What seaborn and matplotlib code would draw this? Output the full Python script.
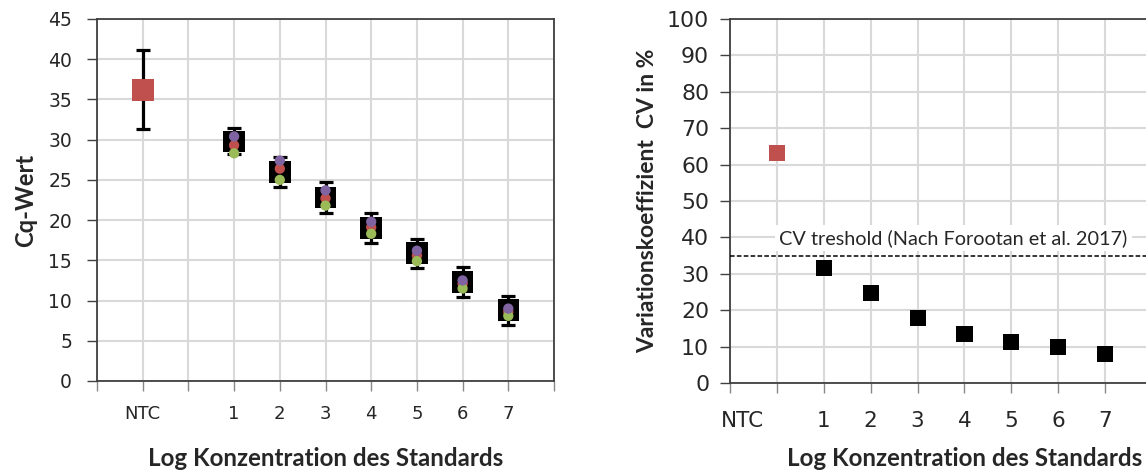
import numpy as np
import pandas as pd
import matplotlib
matplotlib.use("Agg")
import matplotlib.pyplot as plt
import matplotlib.transforms as mtransforms
import seaborn as sns

# data
std_labels = ['1', '2', '3', '4', '5', '6', '7']
ntc_cq = 36.2
ntc_cq_err = 4.9
cq_mean = [29.8, 26.0, 22.8, 19.0, 15.9, 12.3, 8.8]
cq_err = [1.6, 1.9, 1.9, 1.9, 1.8, 1.9, 1.8]
cq_rep_red = [29.3, 26.4, 22.7, 19.1, 15.6, 12.1, 8.6]
cq_rep_green = [28.3, 25.0, 21.8, 18.3, 14.9, 11.5, 8.1]
cq_rep_purple = [30.4, 27.4, 23.7, 19.8, 16.2, 12.5, 9.0]

ntc_cv = 63.2
cv_std = [31.6, 24.7, 17.9, 13.5, 11.3, 9.9, 7.9]
cv_threshold = 35

RED = '#c0504d'
GREEN = '#9bbb59'
PURPLE = '#8064a2'
GRID = '#d9d9d9'
SPINE = '#404040'

sns.set_style("white")
plt.rcParams['font.family'] = ['DejaVu Sans']

fig = plt.figure(figsize=(11.46, 4.70), dpi=100)
ax1 = fig.add_axes([97/1146, 1-381/470, 457/1146, 362/470])
ax2 = fig.add_axes([730/1146, 1-383/470, 469/1146, 364/470])

label_font = dict(family='Lato', fontweight='bold')

# ---------- left: Cq values ----------
left = pd.DataFrame({'pos': np.arange(3, 10), 'mean': cq_mean, 'err': cq_err,
                     'red': cq_rep_red, 'green': cq_rep_green, 'purple': cq_rep_purple})

ax1.errorbar([1], [ntc_cq], yerr=[ntc_cq_err], fmt='none', ecolor='black',
             elinewidth=2.3, capsize=5, capthick=2.3, zorder=3)
sns.scatterplot(x=[1], y=[ntc_cq], marker='s', s=260, color=RED, edgecolor='none',
                ax=ax1, zorder=4)

ax1.errorbar(left['pos'], left['mean'], yerr=left['err'], fmt='none', ecolor='black',
             elinewidth=2.3, capsize=5, capthick=2.3, zorder=3)
sns.scatterplot(data=left, x='pos', y='mean', marker='s', s=240, color='black',
                edgecolor='none', ax=ax1, zorder=4)
for col, c in [('red', RED), ('green', GREEN), ('purple', PURPLE)]:
    sns.scatterplot(data=left, x='pos', y=col, marker='o', s=55, color=c,
                    edgecolor='none', ax=ax1, zorder=5)

ax1.set_xlim(0, 10)
ax1.set_ylim(0, 45)
ax1.set_yticks(np.arange(0, 46, 5))
ax1.set_xticks(np.arange(0, 11))
ax1.set_xticklabels(['', 'NTC', ''] + std_labels + [''])
ax1.tick_params(axis='y', labelsize=13.5, length=7, width=1, color=SPINE,
                direction='out', left=True, pad=11, labelcolor='#262626')
ax1.tick_params(axis='x', labelsize=13, length=7, width=1, color='#888888',
                direction='out', bottom=True, pad=10, labelcolor='#262626')
ax1.grid(True, color=GRID, linewidth=1.5)
for sp in ax1.spines.values():
    sp.set_color(SPINE)
    sp.set_linewidth(1.3)
ax1.set_xlabel('Log Konzentration des Standards', fontsize=17.4, va='center', **label_font)
ax1.xaxis.set_label_coords(0.5, (381-458)/362)
ax1.set_ylabel('Cq-Wert', fontsize=17, va='center', **label_font)
ax1.yaxis.set_label_coords((26-97)/457, 0.5)

# ---------- right: CV ----------
right = pd.DataFrame({'pos': np.arange(2, 9), 'cv': cv_std})

sns.scatterplot(x=[1], y=[ntc_cv], marker='s', s=135, color=RED, edgecolor='none',
                ax=ax2, zorder=4)
sns.scatterplot(data=right, x='pos', y='cv', marker='s', s=135, color='black',
                edgecolor='none', ax=ax2, zorder=4)
ax2.axhline(cv_threshold, color='black', linestyle=(0, (3, 1.5)), linewidth=1.1, zorder=3)
ax2.text(1.05, 39.8, 'CV treshold (Nach Forootan et al. 2017)', family='Lato',
         fontsize=14.3, color='#262626', va='center', ha='left', zorder=3,
         bbox=dict(facecolor='white', edgecolor='none', pad=3))

ax2.set_xlim(0, 10)
ax2.set_ylim(0, 100)
ax2.set_yticks(np.arange(0, 101, 10))
ax2.set_xticks(np.arange(0, 11))
ax2.set_xticklabels(['NTC', ''] + std_labels + ['', ''])
ax2.tick_params(axis='y', labelsize=15.8, length=7, width=1, color=SPINE,
                direction='out', left=True, pad=8, labelcolor='#262626')
ax2.tick_params(axis='x', labelsize=15.5, length=7, width=1, color='#888888',
                direction='out', bottom=True, pad=13, labelcolor='#262626')
# NTC label sits a bit right of the first tick
shift = mtransforms.ScaledTranslation(12/100, 0, fig.dpi_scale_trans)
ax2.get_xticklabels()[0].set_transform(ax2.get_xticklabels()[0].get_transform() + shift)
ax2.grid(True, color=GRID, linewidth=1.5)
for sp in ax2.spines.values():
    sp.set_color(SPINE)
    sp.set_linewidth(1.3)
ax2.set_xlabel('Log Konzentration des Standards', fontsize=17.4, va='center', **label_font)
ax2.xaxis.set_label_coords(0.5, (383-459)/364)
ax2.set_ylabel('Variationskoeffizient  CV in %', fontsize=16.5, va='center', **label_font)
ax2.yaxis.set_label_coords((648-730)/469, 0.5)

fig.savefig('out.png', dpi=100)
